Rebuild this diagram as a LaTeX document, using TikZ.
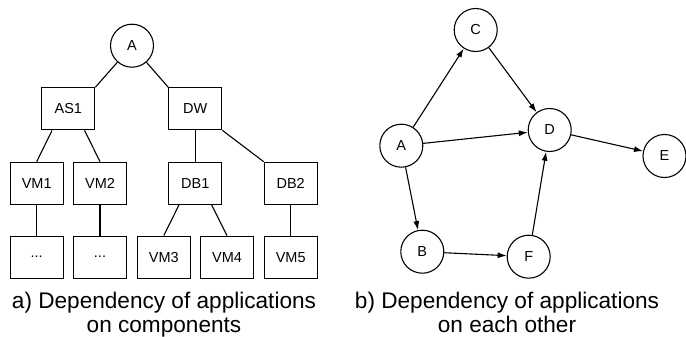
\documentclass[tikz,border=0pt]{standalone}
\usepackage{fontspec}
\setmainfont{Liberation Sans}
\usetikzlibrary{arrows.meta,calc}
\begin{document}
\begin{tikzpicture}[x=1pt,y=-1pt,line width=1.1pt,
  circ/.style={draw,circle,minimum size=43pt,inner sep=0pt,font=\fontsize{14.5}{17}\selectfont},
  rbox/.style={draw,rectangle,minimum width=53pt,minimum height=42pt,inner sep=0pt,font=\fontsize{14.5}{17}\selectfont},
  captext/.style={anchor=base,inner sep=0pt,font=\fontsize{22.6}{26}\selectfont},
  arr/.style={-{Latex[length=9pt,width=6pt]}}]
\useasboundingbox (0,0) rectangle (686,337);
% left tree
\node[circ] (A1) at (132,45.7) {A};
\node[rbox] (AS1) at (68.3,108.8) {AS1};
\node[rbox] (DW) at (195.3,108.8) {DW};
\node[rbox] (VM1) at (36.7,183.2) {VM1};
\node[rbox] (VM2) at (100,183.2) {VM2};
\node[rbox] (DB1) at (195.3,183.2) {DB1};
\node[rbox] (DB2) at (290.7,183.2) {DB2};
\node[rbox] (D1) at (36.7,257.2) {...};
\node[rbox] (D2) at (100,257.2) {...};
\node[rbox] (VM3) at (163.8,257.2) {VM3};
\node[rbox] (VM4) at (227,257.2) {VM4};
\node[rbox] (VM5) at (290.7,257.2) {VM5};
\draw (A1) -- (AS1.north east);
\draw (A1) -- (DW.north west);
\draw ($(AS1.south west)!0.2!(AS1.south east)$) -- (VM1.north);
\draw ($(AS1.south west)!0.8!(AS1.south east)$) -- (VM2.north);
\draw (DW.south) -- (DB1.north);
\draw (DW.south east) -- (DB2.north west);
\draw (VM1) -- (D1);
\draw (VM2) -- (D2);
\draw ($(DB1.south west)!0.2!(DB1.south east)$) -- (VM3.north);
\draw ($(DB1.south west)!0.8!(DB1.south east)$) -- (VM4.north);
\draw (DB2) -- (VM5);
\node[captext] (ca1) at (164,308) {a) Dependency of applications};
\node[captext] (ca2) at (164,332) {on components};
% right graph
\node[circ] (A) at (401.3,145.7) {A};
\node[circ] (C) at (475.7,30) {C};
\node[circ] (D) at (549.7,130) {D};
\node[circ] (E) at (664.5,156) {E};
\node[circ] (B) at (422.3,251.7) {B};
\node[circ] (F) at (528.7,256.7) {F};
\draw[arr] (A) -- (C);
\draw[arr] (C) -- (D);
\draw[arr] (A) -- (D);
\draw[arr] (D) -- (E);
\draw[arr] (A) -- (B);
\draw[arr] (B) -- (F);
\draw[arr] (F) -- (D);
\node[captext] (cb1) at (507,308) {b) Dependency of applications};
\node[captext] (cb2) at (507,332) {on each other};
\end{tikzpicture}
\end{document}
